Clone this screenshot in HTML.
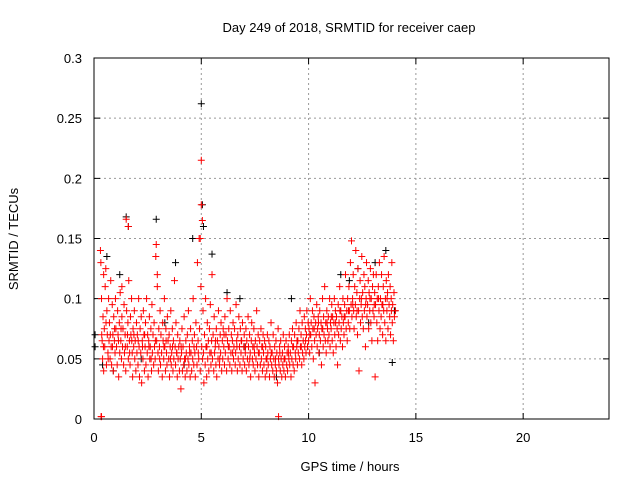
<!DOCTYPE html>
<html><head><meta charset="utf-8">
<style>
body{margin:0;background:#fff;}
svg{display:block;font-family:"Liberation Sans",sans-serif;}
</style></head><body>
<svg id="chart" width="640" height="480" viewBox="0 0 640 480" xmlns="http://www.w3.org/2000/svg">
<rect x="0" y="0" width="640" height="480" fill="#fff"/>
<text x="349" y="32" font-size="13" text-anchor="middle">Day 249 of 2018, SRMTID for receiver caep</text>
<text x="350" y="471" font-size="13" text-anchor="middle">GPS time / hours</text>
<text transform="translate(18,239) rotate(-90)" font-size="13" text-anchor="middle">SRMTID / TECUs</text>
<g id="grid"></g>
<g id="ticks"></g>
<g id="black"></g>
<g id="red"></g>
<rect x="94" y="58" width="515" height="361" fill="none" stroke="#000" stroke-width="1"/>
</svg>
<script>
const xTicks=[0,5,10,15,20];
const yTicks=[0,0.05,0.1,0.15,0.2,0.25,0.3];
const yTickLabels=["0","0.05","0.1","0.15","0.2","0.25","0.3"];
const blackPoints=[[0.05,0.07],[0.05,0.06],[0.4,0.045],[0.6,0.135],[0.9,0.04],[1.5,0.168],[1.6,0.16],[2.9,0.166],[3.8,0.13],[4.6,0.15],
[5.0,0.262],[5.05,0.178],[5.1,0.16],[5.5,0.137],[6.2,0.105],[7.0,0.06],[8.5,0.035],[9.2,0.10],[11.5,0.12],[12.3,0.125],
[13.1,0.13],[13.6,0.14],[13.9,0.047],[14.0,0.09],[1.2,0.12],[2.2,0.05],[3.3,0.08],[4.2,0.045],[6.8,0.1],[10.5,0.055],[11.9,0.115],[12.8,0.08]];
const redPoints=[
[0.3,0.14],[0.32,0.13],[0.35,0.1],[0.38,0.065],[0.4,0.05],[0.42,0.085],[0.45,0.04],[0.48,0.075],[0.5,0.06],[0.52,0.11],
[0.55,0.125],[0.58,0.045],[0.6,0.09],[0.62,0.07],[0.65,0.055],[0.68,0.1],[0.7,0.065],[0.72,0.08],[0.75,0.05],[0.78,0.115],
[0.8,0.06],[0.82,0.045],[0.85,0.095],[0.88,0.07],[0.9,0.04],[0.92,0.085],[0.95,0.065],[0.98,0.055],[1.0,0.1],[1.02,0.075],
[1.05,0.06],[1.08,0.045],[1.1,0.09],[1.12,0.07],[1.15,0.035],[1.18,0.08],[1.2,0.055],[1.22,0.105],[1.25,0.065],[1.28,0.05],
[1.3,0.085],[1.33,0.06],[1.35,0.075],[1.38,0.045],[1.4,0.095],[1.42,0.055],[1.45,0.07],[1.48,0.04],[1.5,0.166],[1.52,0.09],
[1.55,0.06],[1.58,0.08],[1.6,0.05],[1.62,0.115],[1.65,0.065],[1.68,0.045],[1.7,0.085],[1.72,0.07],[1.75,0.1],[1.78,0.055],
[1.8,0.035],[1.82,0.075],[1.85,0.06],[1.88,0.09],[1.9,0.05],[1.92,0.065],[1.95,0.04],[1.98,0.08],[2.0,0.055],[2.02,0.07],
[2.05,0.045],[2.08,0.1],[2.1,0.06],[2.12,0.035],[2.15,0.075],[2.18,0.055],[2.2,0.085],[2.22,0.03],[2.25,0.065],[2.28,0.05],
[2.3,0.09],[2.33,0.07],[2.35,0.04],[2.38,0.06],[2.4,0.08],[2.42,0.045],[2.45,0.1],[2.48,0.055],[2.5,0.07],[2.52,0.035],
[2.55,0.065],[2.58,0.085],[2.6,0.05],[2.62,0.06],[2.65,0.075],[2.68,0.04],[2.7,0.095],[2.72,0.055],[2.75,0.07],[2.78,0.045],
[2.8,0.08],[2.82,0.06],[2.85,0.05],[2.88,0.135],[2.9,0.145],[2.92,0.065],[2.95,0.11],[2.98,0.055],[3.0,0.04],[3.02,0.075],
[3.05,0.06],[3.08,0.09],[3.1,0.045],[3.12,0.07],[3.15,0.055],[3.18,0.035],[3.2,0.08],[3.22,0.065],[3.25,0.05],[3.28,0.1],
[3.3,0.06],[3.33,0.04],[3.35,0.075],[3.38,0.055],[3.4,0.045],[3.42,0.085],[3.45,0.065],[3.48,0.05],[3.5,0.07],[3.52,0.035],
[3.55,0.06],[3.58,0.09],[3.6,0.045],[3.62,0.055],[3.65,0.075],[3.68,0.04],[3.7,0.065],[3.72,0.05],[3.75,0.115],[3.78,0.06],
[3.8,0.045],[3.82,0.08],[3.85,0.055],[3.88,0.035],[3.9,0.07],[3.92,0.05],[3.95,0.06],[3.98,0.04],[4.0,0.065],[4.02,0.05],
[4.05,0.025],[4.08,0.055],[4.1,0.075],[4.12,0.04],[4.15,0.06],[4.18,0.045],[4.2,0.085],[4.22,0.05],[4.25,0.035],[4.28,0.065],
[4.3,0.055],[4.33,0.04],[4.35,0.07],[4.38,0.05],[4.4,0.09],[4.42,0.045],[4.45,0.06],[4.48,0.035],[4.5,0.075],[4.52,0.055],
[4.55,0.04],[4.58,0.065],[4.6,0.05],[4.62,0.1],[4.65,0.045],[4.68,0.07],[4.7,0.055],[4.72,0.035],[4.75,0.08],[4.78,0.06],
[4.8,0.045],[4.82,0.13],[4.85,0.065],[4.88,0.05],[4.9,0.15],[4.92,0.075],[4.95,0.04],[4.98,0.11],[5.0,0.215],[5.02,0.06],
[5.05,0.165],[5.08,0.09],[5.1,0.055],[5.12,0.03],[5.15,0.07],[5.18,0.045],[5.2,0.1],[5.22,0.06],[5.25,0.035],[5.28,0.08],
[5.3,0.05],[5.33,0.065],[5.35,0.04],[5.38,0.075],[5.4,0.055],[5.42,0.095],[5.45,0.045],[5.48,0.065],[5.5,0.12],[5.52,0.05],
[5.55,0.07],[5.58,0.04],[5.6,0.085],[5.62,0.055],[5.65,0.06],[5.68,0.045],[5.7,0.075],[5.72,0.035],[5.75,0.065],[5.78,0.05],
[5.8,0.09],[5.82,0.06],[5.85,0.045],[5.88,0.07],[5.9,0.055],[5.92,0.08],[5.95,0.04],[5.98,0.065],[6.0,0.05],[6.02,0.075],
[6.05,0.06],[6.08,0.045],[6.1,0.085],[6.12,0.055],[6.15,0.07],[6.18,0.04],[6.2,0.1],[6.22,0.065],[6.25,0.05],[6.28,0.075],
[6.3,0.06],[6.33,0.045],[6.35,0.09],[6.38,0.055],[6.4,0.07],[6.42,0.04],[6.45,0.065],[6.48,0.08],[6.5,0.05],[6.52,0.06],
[6.55,0.075],[6.58,0.045],[6.6,0.055],[6.62,0.095],[6.65,0.065],[6.68,0.04],[6.7,0.07],[6.72,0.05],[6.75,0.085],[6.78,0.06],
[6.8,0.045],[6.82,0.075],[6.85,0.055],[6.88,0.065],[6.9,0.04],[6.92,0.08],[6.95,0.05],[6.98,0.06],[7.0,0.07],[7.02,0.045],
[7.05,0.055],[7.08,0.075],[7.1,0.04],[7.12,0.065],[7.15,0.05],[7.18,0.085],[7.2,0.06],[7.22,0.045],[7.25,0.07],[7.28,0.055],
[7.3,0.035],[7.33,0.065],[7.35,0.08],[7.38,0.05],[7.4,0.06],[7.42,0.045],[7.45,0.075],[7.48,0.055],[7.5,0.04],[7.52,0.065],
[7.55,0.05],[7.58,0.09],[7.6,0.06],[7.62,0.045],[7.65,0.07],[7.68,0.035],[7.7,0.055],[7.72,0.065],[7.75,0.045],[7.78,0.075],
[7.8,0.05],[7.82,0.06],[7.85,0.04],[7.88,0.07],[7.9,0.055],[7.92,0.045],[7.95,0.065],[7.98,0.035],[8.0,0.06],[8.02,0.05],
[8.05,0.04],[8.08,0.07],[8.1,0.055],[8.12,0.045],[8.15,0.065],[8.18,0.035],[8.2,0.06],[8.22,0.05],[8.25,0.08],[8.28,0.045],
[8.3,0.055],[8.33,0.04],[8.35,0.07],[8.38,0.05],[8.4,0.035],[8.42,0.06],[8.45,0.045],[8.48,0.065],[8.5,0.04],[8.52,0.055],
[8.55,0.03],[8.58,0.075],[8.6,0.05],[8.62,0.045],[8.65,0.06],[8.68,0.04],[8.7,0.065],[8.72,0.05],[8.75,0.035],[8.78,0.055],
[8.8,0.045],[8.82,0.07],[8.85,0.04],[8.88,0.06],[8.9,0.05],[8.92,0.035],[8.95,0.065],[8.98,0.045],[9.0,0.055],[9.02,0.04],
[9.05,0.06],[9.08,0.05],[9.1,0.07],[9.12,0.045],[9.15,0.055],[9.18,0.035],[9.2,0.065],[9.22,0.05],[9.25,0.075],[9.28,0.045],
[9.3,0.06],[9.33,0.04],[9.35,0.07],[9.38,0.055],[9.4,0.05],[9.42,0.08],[9.45,0.06],[9.48,0.045],[9.5,0.065],[9.52,0.055],
[9.55,0.075],[9.58,0.05],[9.6,0.09],[9.62,0.06],[9.65,0.07],[9.68,0.045],[9.7,0.08],[9.72,0.055],[9.75,0.065],[9.78,0.05],
[9.8,0.085],[9.82,0.06],[9.85,0.075],[9.88,0.055],[9.9,0.07],[9.92,0.09],[9.95,0.06],[9.98,0.08],[10.0,0.065],[10.02,0.075],
[10.05,0.055],[10.08,0.1],[10.1,0.07],[10.12,0.08],[10.15,0.06],[10.18,0.09],[10.2,0.075],[10.22,0.05],[10.25,0.085],[10.28,0.065],
[10.3,0.03],[10.33,0.08],[10.35,0.07],[10.38,0.095],[10.4,0.06],[10.42,0.075],[10.45,0.085],[10.48,0.055],[10.5,0.07],[10.52,0.09],
[10.55,0.065],[10.58,0.08],[10.6,0.045],[10.62,0.075],[10.65,0.1],[10.68,0.06],[10.7,0.085],[10.72,0.07],[10.75,0.11],[10.78,0.065],
[10.8,0.08],[10.82,0.055],[10.85,0.09],[10.88,0.075],[10.9,0.065],[10.92,0.085],[10.95,0.07],[10.98,0.1],[11.0,0.06],[11.02,0.08],
[11.05,0.075],[11.08,0.095],[11.1,0.065],[11.12,0.085],[11.15,0.055],[11.18,0.08],[11.2,0.1],[11.22,0.07],[11.25,0.09],[11.28,0.06],
[11.3,0.085],[11.33,0.075],[11.35,0.045],[11.38,0.095],[11.4,0.07],[11.42,0.08],[11.45,0.11],[11.48,0.065],[11.5,0.09],[11.52,0.075],
[11.55,0.085],[11.58,0.06],[11.6,0.1],[11.62,0.08],[11.65,0.07],[11.68,0.095],[11.7,0.085],[11.72,0.12],[11.75,0.075],[11.78,0.09],
[11.8,0.065],[11.82,0.1],[11.85,0.08],[11.88,0.11],[11.9,0.09],[11.92,0.075],[11.95,0.13],[11.98,0.095],[12.0,0.148],[12.02,0.085],
[12.05,0.1],[12.08,0.12],[12.1,0.09],[12.12,0.075],[12.15,0.11],[12.18,0.095],[12.2,0.14],[12.22,0.085],[12.25,0.105],[12.28,0.07],
[12.3,0.125],[12.33,0.09],[12.35,0.04],[12.38,0.1],[12.4,0.115],[12.42,0.08],[12.45,0.095],[12.48,0.135],[12.5,0.085],[12.52,0.105],
[12.55,0.075],[12.58,0.12],[12.6,0.09],[12.62,0.11],[12.65,0.06],[12.68,0.1],[12.7,0.13],[12.72,0.085],[12.75,0.095],[12.78,0.115],
[12.8,0.075],[12.82,0.105],[12.85,0.09],[12.88,0.125],[12.9,0.08],[12.92,0.1],[12.95,0.065],[12.98,0.11],[13.0,0.09],[13.02,0.12],
[13.05,0.085],[13.08,0.105],[13.1,0.035],[13.12,0.095],[13.15,0.12],[13.18,0.08],[13.2,0.1],[13.22,0.065],[13.25,0.11],[13.28,0.09],
[13.3,0.13],[13.33,0.075],[13.35,0.1],[13.38,0.085],[13.4,0.12],[13.42,0.095],[13.45,0.07],[13.48,0.11],[13.5,0.09],[13.52,0.135],
[13.55,0.08],[13.58,0.1],[13.6,0.065],[13.62,0.115],[13.65,0.09],[13.68,0.105],[13.7,0.075],[13.72,0.12],[13.75,0.095],[13.78,0.085],
[13.8,0.11],[13.82,0.07],[13.85,0.1],[13.88,0.13],[13.9,0.08],[13.92,0.095],[13.95,0.065],[13.98,0.105],[14.0,0.085],[14.05,0.09],
[0.36,0.07],[0.44,0.06],[0.56,0.08],[0.66,0.05],[0.76,0.07],[0.86,0.06],[0.96,0.075],[1.14,0.065],[1.26,0.075],[1.46,0.06],
[1.56,0.07],[1.66,0.055],[1.76,0.065],[1.86,0.07],[2.06,0.065],[2.26,0.06],[2.36,0.07],[2.56,0.06],[2.66,0.05],[2.86,0.065],
[3.06,0.05],[3.26,0.06],[3.36,0.065],[3.56,0.05],[3.66,0.06],[3.86,0.055],[4.06,0.06],[4.26,0.05],[4.46,0.055],[4.66,0.06],
[4.86,0.055],[5.06,0.05],[5.26,0.06],[5.46,0.055],[5.66,0.065],[5.86,0.05],[6.06,0.07],[6.26,0.06],[6.46,0.055],[6.66,0.06],
[6.86,0.065],[7.06,0.06],[7.26,0.05],[7.46,0.06],[7.66,0.055],[7.86,0.06],[8.06,0.05],[8.26,0.055],[8.46,0.05],[8.66,0.055],
[8.86,0.05],[9.06,0.055],[9.26,0.06],[9.46,0.065],[9.66,0.06],[9.86,0.065],[10.06,0.07],[10.26,0.075],[10.46,0.08],[10.66,0.075],
[10.86,0.08],[11.06,0.085],[11.26,0.08],[11.46,0.09],[11.66,0.085],[11.86,0.09],[12.06,0.095],[12.26,0.09],[12.46,0.1],[12.66,0.095],
[12.86,0.1],[13.06,0.095],[13.26,0.1],[13.46,0.095],[13.66,0.1],[13.86,0.09],
[0.35,0.002],[0.33,0.002],[8.6,0.002],[1.6,0.16],[4.95,0.15],[5.0,0.178],[2.95,0.12],[0.45,0.12],[1.3,0.11]];
const NS="http://www.w3.org/2000/svg";
const xs=t=>94+t*(515/24);
const ys=v=>419-v*(361/0.3);
const grid=document.getElementById('grid'),ticks=document.getElementById('ticks');
xTicks.forEach(t=>{
  if(t>0){const l=document.createElementNS(NS,'line');
  
  
  l.setAttribute('x1',xs(t));l.setAttribute('x2',xs(t));l.setAttribute('y1',58);l.setAttribute('y2',419);
  l.setAttribute('stroke','#999');l.setAttribute('stroke-dasharray','2,3');grid.appendChild(l);}
  const tk=document.createElementNS(NS,'path');
  
  
  tk.setAttribute('d',`M${xs(t)},419v-6M${xs(t)},58v6`);tk.setAttribute('stroke','#000');ticks.appendChild(tk);
  const tx=document.createElementNS(NS,'text');
  
  
  tx.setAttribute('x',xs(t));tx.setAttribute('y',442);tx.setAttribute('font-size','13');tx.setAttribute('text-anchor','middle');
  tx.textContent=String(t);ticks.appendChild(tx);
});
yTicks.forEach((v,i)=>{
  if(v>0){const l=document.createElementNS(NS,'line');
  
  
  l.setAttribute('x1',94);l.setAttribute('x2',609);l.setAttribute('y1',ys(v));l.setAttribute('y2',ys(v));
  l.setAttribute('stroke','#999');l.setAttribute('stroke-dasharray','2,3');grid.appendChild(l);}
  const tk=document.createElementNS(NS,'path');
  
  
  tk.setAttribute('d',`M94,${ys(v)}h6M609,${ys(v)}h-6`);tk.setAttribute('stroke','#000');ticks.appendChild(tk);
  const tx=document.createElementNS(NS,'text');
  
  
  tx.setAttribute('x',82);tx.setAttribute('y',ys(v)+5);tx.setAttribute('font-size','13');tx.setAttribute('text-anchor','end');
  tx.textContent=yTickLabels[i];ticks.appendChild(tx);
});
function plot(g,P,color){
  P.forEach(pt=>{
    const x=xs(pt[0]),y=ys(pt[1]);
    const p=document.createElementNS(NS,'path');
    
    
    p.setAttribute('d',`M${x-3.5},${y}h7M${x},${y-3.5}v7`);
    p.setAttribute('stroke',color);p.setAttribute('stroke-width','1');g.appendChild(p);
  });
}
plot(document.getElementById('black'),blackPoints,'#000');
plot(document.getElementById('red'),redPoints,'#f00');
</script>
</body></html>
